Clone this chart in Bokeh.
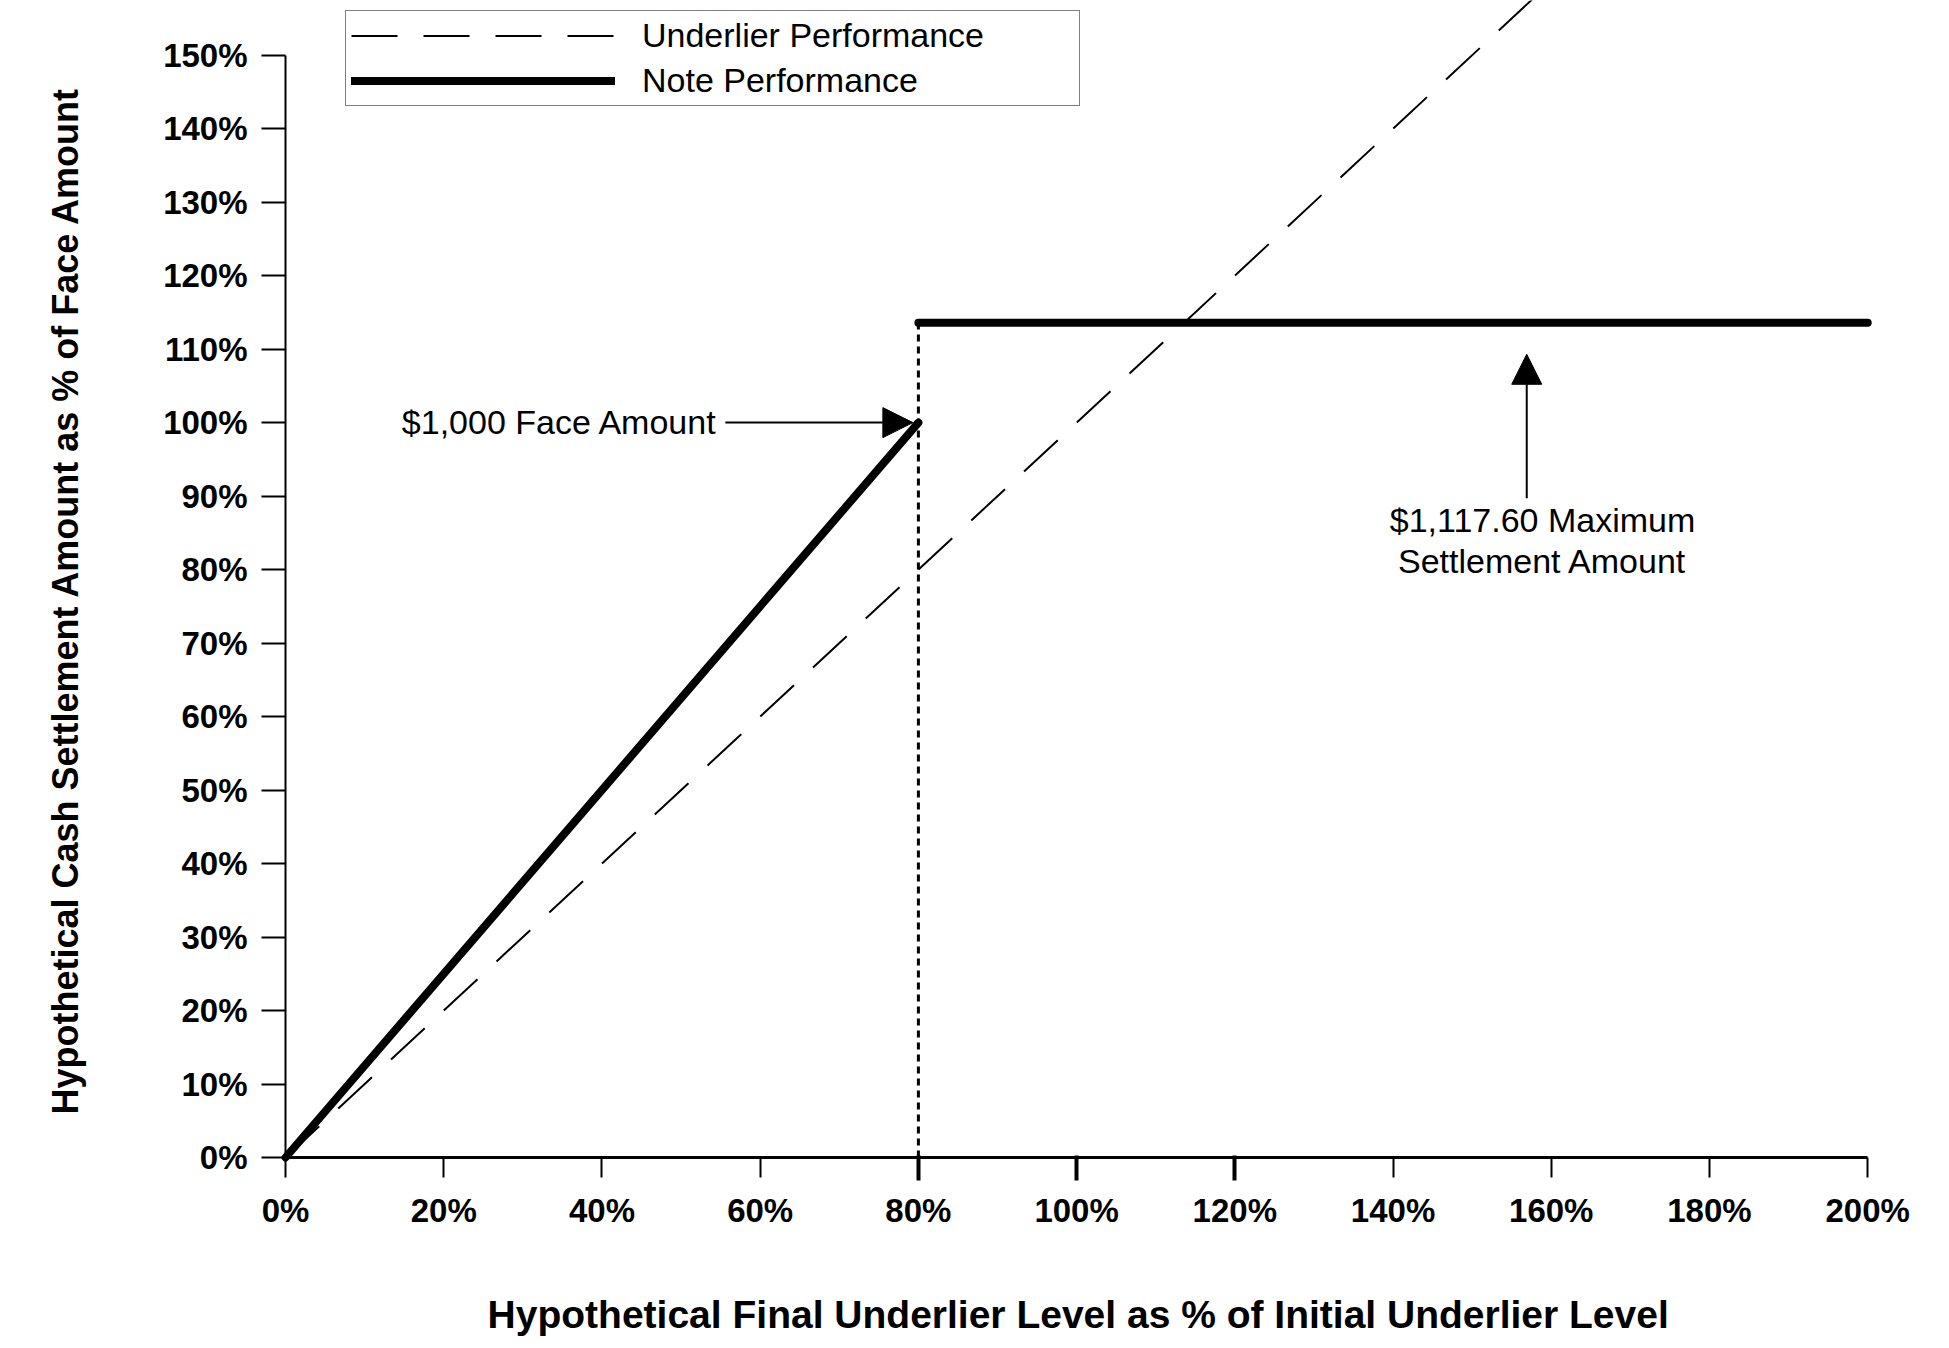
import math
from bokeh.plotting import figure
from bokeh.models import (Range1d, FixedTicker, PrintfTickFormatter, Legend, LegendItem,
                          Label, Arrow, NormalHead, LinearAxis)
from bokeh.embed import file_html
from bokeh.resources import INLINE

# ---- data ----
underlier_x = [0, 200]
underlier_y = [0, 200]
note_rise_x = [0, 80]
note_rise_y = [0, 100]
note_cap_x = [80, 200]
note_cap_y = [113.6, 113.6]
jump_x = [80, 80]
jump_y = [0, 113.6]
x_ticks = [0, 20, 40, 60, 80, 100, 120, 140, 160, 180, 200]
y_ticks = [0, 10, 20, 30, 40, 50, 60, 70, 80, 90, 100, 110, 120, 130, 140, 150]
heavy_x_ticks = [80, 100, 120]

FONT = "Liberation Sans"

# frame covers the whole canvas; axes are pinned at 0 so nothing is clipped
p = figure(width=1930, height=1340, x_range=Range1d(-36.03, 207.94), y_range=Range1d(-24.90, 157.44),
           output_backend="svg", toolbar_location=None,
           min_border_left=0, min_border_right=0, min_border_top=0, min_border_bottom=0)
p.outline_line_color = None
p.xgrid.grid_line_color = None
p.ygrid.grid_line_color = None
p.background_fill_color = "white"
p.border_fill_color = "white"

r_under = p.line(underlier_x, underlier_y, line_color="black", line_width=2, line_dash="46 26")
r_jump = p.line(jump_x, jump_y, line_color="black", line_width=3, line_dash="7 5")
r_note = p.line(note_rise_x, note_rise_y, line_color="black", line_width=8, line_cap="round")
p.line(note_cap_x, note_cap_y, line_color="black", line_width=8, line_cap="round")

# ---- axes ----
xa = p.xaxis[0]
xa.fixed_location = 0
xa.bounds = (0, 200)
xa.ticker = FixedTicker(ticks=x_ticks)
xa.formatter = PrintfTickFormatter(format="%d%%")
xa.axis_line_width = 3
xa.axis_line_color = "black"
xa.major_tick_line_width = 2
xa.major_tick_line_color = "black"
xa.major_tick_in = 0
xa.major_tick_out = 20
xa.minor_tick_line_color = None
xa.major_label_standoff = 14
xa.major_label_text_font = FONT
xa.major_label_text_font_style = "bold"
xa.major_label_text_font_size = "33px"
xa.major_label_text_color = "black"

# heavier tick marks at 80 / 100 / 120 (no labels of their own)
xb = LinearAxis(fixed_location=0, ticker=FixedTicker(ticks=heavy_x_ticks),
                major_label_overrides={t: " " for t in heavy_x_ticks},
                axis_line_color=None, major_tick_line_color="black", major_tick_line_width=4,
                minor_tick_line_color=None, major_tick_in=2, major_tick_out=23,
                major_label_text_font_size="33px")
p.add_layout(xb, "below")

ya = p.yaxis[0]
ya.fixed_location = 0
ya.bounds = (0, 150)
ya.ticker = FixedTicker(ticks=y_ticks)
ya.formatter = PrintfTickFormatter(format="%d%%")
ya.axis_line_width = 2
ya.axis_line_color = "black"
ya.major_tick_line_width = 2
ya.major_tick_line_color = "black"
ya.major_tick_in = 0
ya.major_tick_out = 24
ya.minor_tick_line_color = None
ya.major_label_standoff = 14
ya.major_label_text_font = FONT
ya.major_label_text_font_style = "bold"
ya.major_label_text_font_size = "33px"
ya.major_label_text_color = "black"

# axis titles
p.add_layout(Label(x=100.2, y=-21.43,
                   text="Hypothetical Final Underlier Level as % of Initial Underlier Level",
                   text_align="center", text_baseline="middle", text_font=FONT,
                   text_font_style="bold", text_font_size="39px", text_color="black"))
p.add_layout(Label(x=-27.8, y=75.8, angle=math.pi / 2,
                   text="Hypothetical Cash Settlement Amount as % of Face Amount",
                   text_align="center", text_baseline="middle", text_font=FONT,
                   text_font_style="bold", text_font_size="36px", text_color="black"))

# ---- annotations ----
p.add_layout(Label(x=54.6, y=100.1, text="$1,000 Face Amount", text_align="right",
                   text_baseline="alphabetic", text_font=FONT, text_font_size="34px",
                   text_color="black"))
p.add_layout(Arrow(end=NormalHead(size=30, fill_color="black", line_color="black"),
                   x_start=55.6, y_start=100, x_end=79.3, y_end=100,
                   line_color="black", line_width=2))
p.add_layout(Arrow(end=NormalHead(size=30, fill_color="black", line_color="black"),
                   x_start=156.9, y_start=89.7, x_end=156.9, y_end=109.3,
                   line_color="black", line_width=2))
p.add_layout(Label(x=158.9, y=86.7, text="$1,117.60 Maximum", text_align="center",
                   text_baseline="alphabetic", text_font=FONT, text_font_size="34px",
                   text_color="black"))
p.add_layout(Label(x=158.9, y=81.2, text="Settlement Amount", text_align="center",
                   text_baseline="alphabetic", text_font=FONT, text_font_size="34px",
                   text_color="black"))

# ---- legend ----
legend = Legend(items=[LegendItem(label="Underlier Performance", renderers=[r_under]),
                       LegendItem(label="Note Performance", renderers=[r_note])],
                location=(345, 1234), glyph_width=264, glyph_height=33, label_height=33,
                spacing=6, padding=5, label_standoff=27, label_width=432, margin=0,
                border_line_color="black", border_line_width=1.5,
                background_fill_color="white", background_fill_alpha=1.0,
                label_text_font=FONT, label_text_font_size="34px", label_text_color="black")
p.add_layout(legend)

open("out.html", "w").write(file_html(p, INLINE))
